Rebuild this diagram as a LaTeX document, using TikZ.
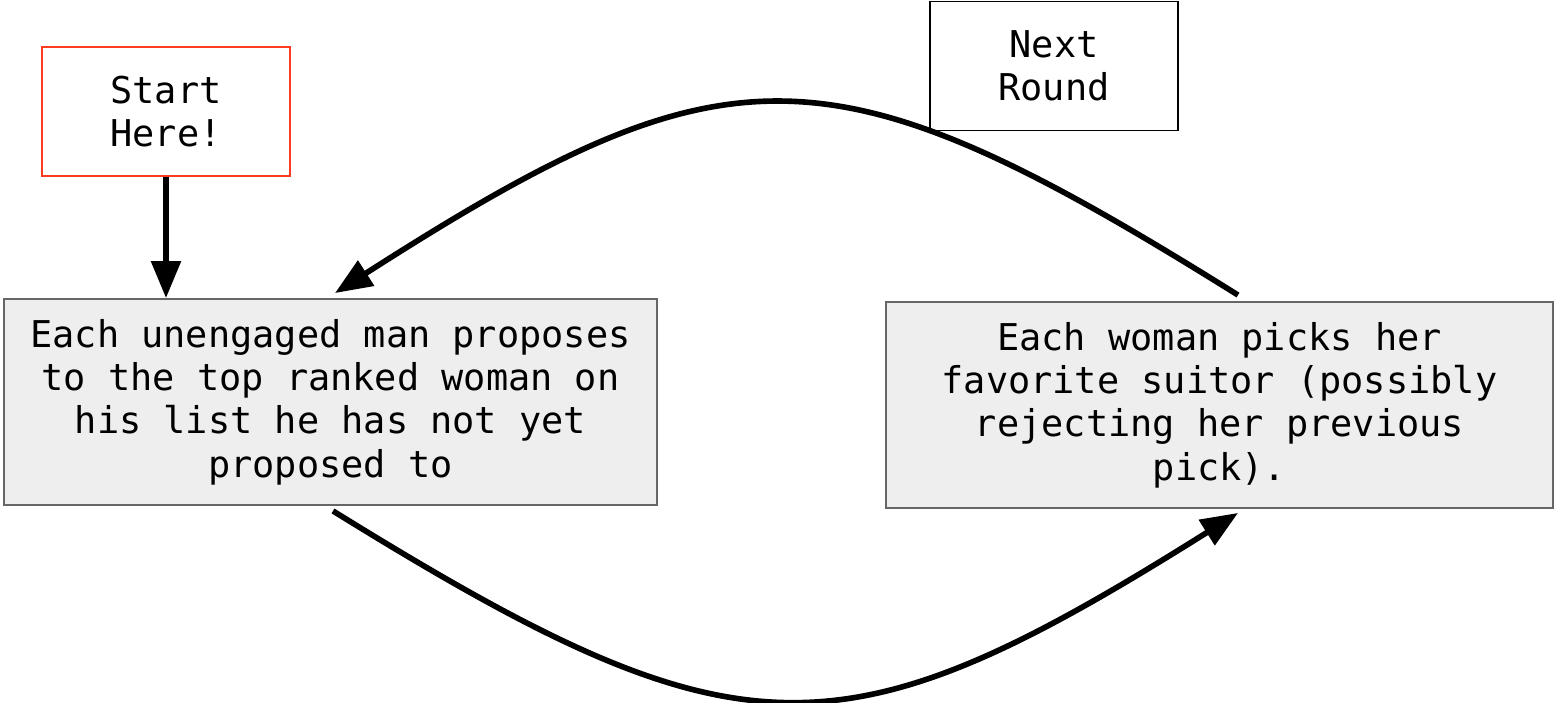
\documentclass[tikz,border=0pt]{standalone}
\usepackage{fontspec}
\setmonofont{DejaVu Sans Mono}
\usepackage{xcolor}
\usetikzlibrary{arrows.meta,positioning,calc}
\definecolor{startred}{RGB}{255,59,31}
\definecolor{boxgray}{RGB}{238,238,238}
\definecolor{edgegray}{RGB}{102,102,102}

\begin{document}
\begin{tikzpicture}[x=0.01cm, y=-0.01cm, font=\ttfamily\fontsize{10.5}{12.3}\selectfont,
  labelbox/.style={draw, line width=0.5pt, align=center, inner sep=0pt, minimum width=2.48cm, minimum height=1.29cm},
  stepbox/.style={draw=edgegray, fill=boxgray, line width=0.5pt, align=center, inner sep=0pt, minimum height=2.06cm},
  flow/.style={line width=1.6pt, -{Triangle[length=3.7mm,width=2.9mm]}}]
  \useasboundingbox (0,0) rectangle (1554,703);
  \node[labelbox, draw=startred] (start) at (166,111.5) {Start\\Here!};
  \node[labelbox] (next) at (1054,66) {Next\\Round};
  \node[stepbox, minimum width=6.53cm] (propose) at (330.5,402) {Each unengaged man proposes\\to the top ranked woman on\\his list he has not yet\\proposed to};
  \node[stepbox, minimum width=6.67cm] (pick) at (1219.5,405) {Each woman picks her\\favorite suitor (possibly\\rejecting her previous\\pick).};
  \draw[flow] (start.south) -- (start.south |- propose.north);
  \draw[flow] ([xshift=1.85mm,yshift=0.6mm]pick.north) .. controls (830,40) and (730,40) .. ([xshift=0.45mm,yshift=0.5mm]propose.north);
  \draw[flow] ([xshift=0.25mm,yshift=-0.5mm]propose.south) .. controls (740,763) and (840,763) .. ([xshift=1.85mm,yshift=-0.4mm]pick.south);
\end{tikzpicture}
\end{document}
